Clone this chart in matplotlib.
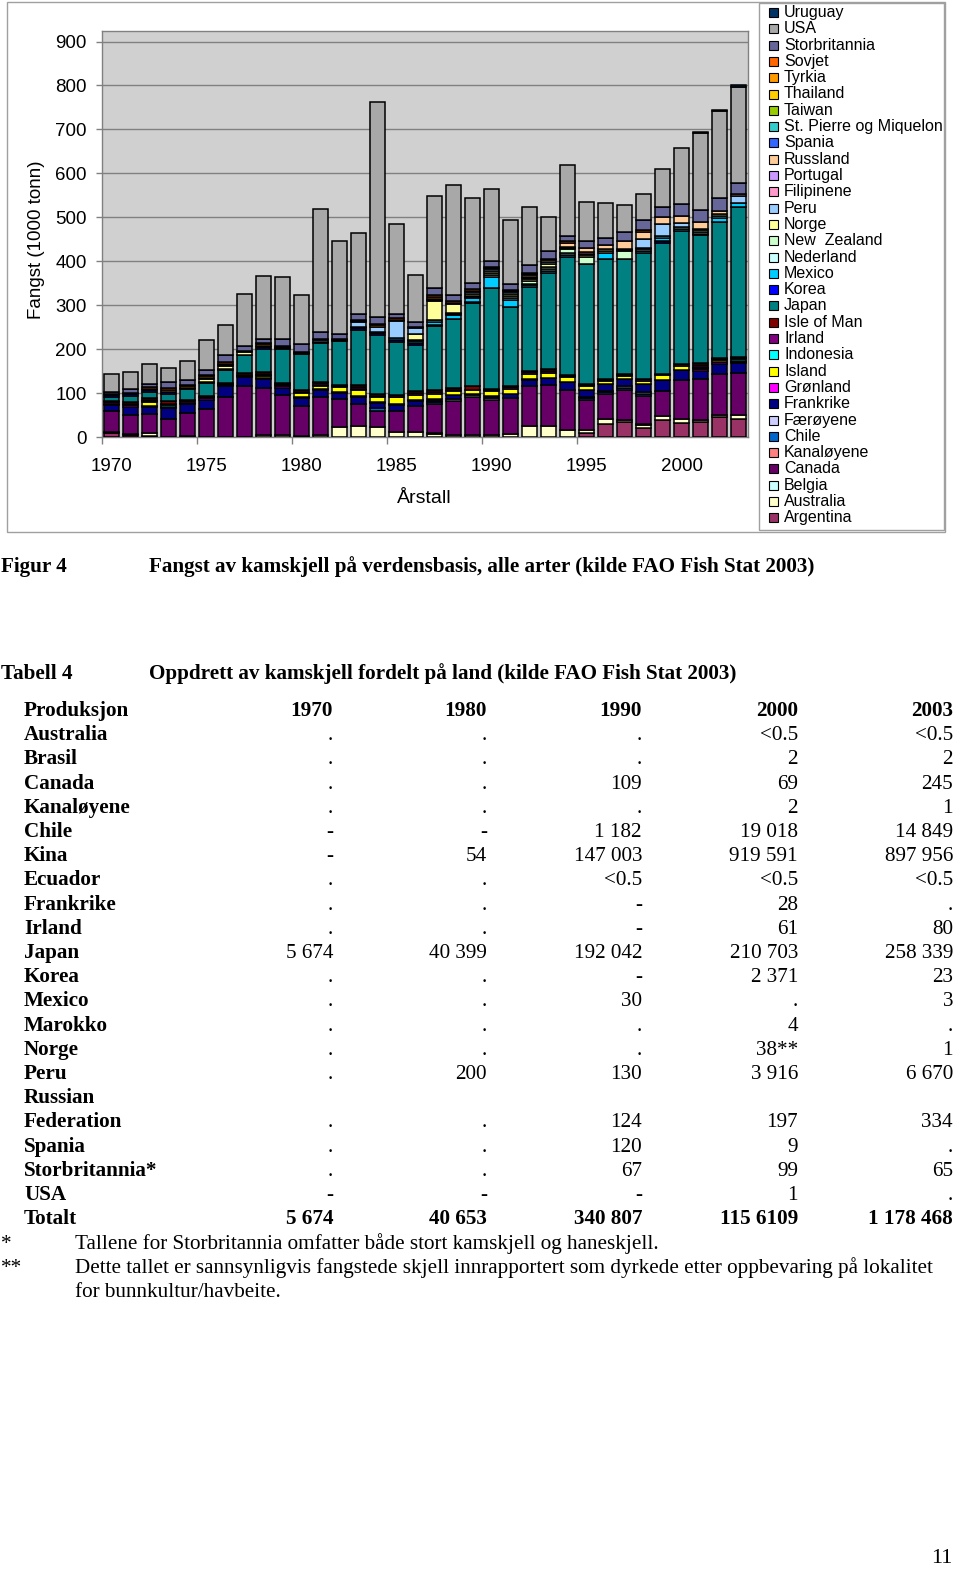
import matplotlib
matplotlib.use('Agg')
import matplotlib.pyplot as plt
from matplotlib.patches import Rectangle
import numpy as np

# ---------------- data (1000 tonnes), years 1970-2003 ----------------
years = list(range(1970, 2004))

argentina = [10, 5, 2, 0, 0,   0, 0, 0, 0, 0,   0, 0, 0, 0, 0,   0, 0, 0, 0, 0,
             0, 0, 0, 0, 0,   8, 30, 35, 20, 39,   31, 35, 46, 42]
australia = [2, 2, 7, 1, 2,   1, 1, 1, 5, 5,   2, 5, 23, 25, 23,   12, 11, 7, 5, 5,
             5, 7, 24, 25, 16,   9, 11, 3, 8, 8,   9, 3, 5, 8]
belgia = [0, 0, 0, 0, 0,   0, 0, 0, 0, 0,   0, 0, 0, 0, 0,   0, 0, 2, 0, 0,
          0, 0, 0, 0, 0,   0, 0, 0, 2, 0,   0, 0, 0, 0]
canada = [48, 43, 43, 40, 53,   63, 91, 114, 106, 91,   69, 87, 64, 51, 37,   48, 60, 67, 76, 87,
          80, 81, 91, 93, 91,   68, 58, 70, 64, 57,   89, 93, 93, 95]
kanaloyene = [0, 0, 0, 0, 0,   0, 0, 0, 0, 0,   0, 0, 0, 0, 0,   0, 0, 0, 0, 0,
              0, 0, 0, 0, 0,   0, 0, 0, 0, 0,   0, 0, 0, 0]
chile = [0, 0, 0, 0, 0,   0, 0, 0, 0, 0,   0, 0, 0, 0, 6,   0, 0, 3, 0, 0,
         0, 0, 0, 0, 0,   3, 3, 4, 4, 0,   0, 0, 0, 0]
faeroyene = [0, 0, 0, 0, 0,   0, 0, 0, 0, 0,   0, 0, 0, 0, 0,   0, 0, 3, 5, 4,
             4, 0, 0, 0, 0,   3, 3, 4, 4, 0,   0, 0, 0, 0]
frankrike = [13, 19, 17, 25, 19,   21, 23, 21, 20, 15,   17, 15, 14, 15, 12,   13, 11, 5, 10, 2,
             4, 11, 15, 17, 19,   15, 15, 15, 18, 26,   23, 20, 23, 23]
gronland = [3, 3, 2, 3, 3,   3, 3, 3, 3, 4,   4, 2, 2, 2, 2,   2, 3, 0, 0, 0,
            0, 0, 3, 0, 0,   0, 0, 0, 0, 0,   0, 3, 3, 3]
island = [0, 0, 8, 0, 0,   0, 0, 0, 5, 3,   9, 8, 10, 14, 11,   15, 11, 11, 9, 10,
          11, 10, 11, 11, 10,   9, 8, 8, 8, 10,   10, 3, 5, 3]
indonesia = [0, 0, 3, 3, 0,   0, 0, 0, 2, 0,   0, 2, 0, 3, 0,   0, 0, 0, 0, 0,
             0, 0, 0, 0, 0,   0, 0, 0, 0, 0,   0, 3, 0, 3]
irland = [3, 4, 3, 4, 4,   3, 3, 3, 3, 2,   2, 3, 2, 3, 3,   2, 4, 4, 3, 0,
          2, 4, 3, 4, 2,   3, 2, 2, 3, 0,   0, 4, 2, 3]
isle_of_man = [3, 4, 3, 5, 4,   3, 3, 3, 3, 2,   3, 4, 3, 5, 3,   4, 4, 6, 3, 9,
               3, 4, 4, 4, 3,   3, 3, 3, 0, 3,   4, 4, 3, 3]
japan = [10, 13, 15, 17, 24,   29, 29, 42, 53, 78,   83, 89, 100, 126, 136,   120, 106, 144, 157, 189,
         229, 178, 191, 219, 269,   272, 271, 261, 288, 299,   303, 291, 309, 340]
korea = [3, 4, 4, 4, 3,   2, 2, 0, 4, 2,   2, 2, 2, 4, 3,   4, 4, 4, 0, 2,
         0, 0, 0, 0, 0,   0, 0, 0, 0, 5,   0, 0, 0, 0]
mexico = [0, 0, 0, 0, 0,   0, 0, 0, 0, 0,   0, 0, 0, 3, 3,   5, 4, 5, 9, 8,
          27, 17, 3, 5, 4,   0, 15, 0, 4, 5,   5, 4, 10, 10]
nederland = [0, 0, 0, 0, 0,   0, 0, 0, 0, 0,   0, 0, 0, 0, 0,   0, 3, 6, 3, 3,
             4, 4, 4, 5, 4,   0, 0, 0, 4, 5,   4, 4, 4, 0]
new_zealand = [0, 0, 0, 0, 0,   0, 0, 0, 0, 0,   0, 0, 0, 0, 0,   0, 0, 0, 3, 3,
               4, 5, 5, 5, 10,   17, 4, 19, 3, 0,   0, 3, 4, 0]
norge = [0, 0, 0, 0, 0,   7, 6, 6, 3, 0,   0, 0, 0, 0, 0,   0, 13, 42, 19, 4,
         5, 5, 5, 6, 3,   4, 4, 2, 0, 0,   0, 4, 0, 0]
peru = [0, 0, 0, 0, 0,   0, 0, 0, 0, 3,   3, 3, 3, 11, 11,   40, 13, 3, 4, 4,
        4, 3, 3, 4, 2,   3, 0, 2, 21, 27,   10, 0, 0, 15]
filipinene = [0, 0, 0, 0, 0,   0, 0, 0, 0, 0,   0, 0, 0, 0, 0,   0, 0, 0, 0, 0,
              0, 0, 3, 0, 0,   3, 0, 0, 0, 0,   0, 0, 0, 0]
portugal = [0, 0, 0, 0, 0,   0, 0, 0, 0, 0,   0, 0, 0, 0, 0,   0, 0, 0, 0, 0,
            0, 0, 0, 0, 0,   0, 0, 0, 0, 0,   0, 0, 0, 0]
russland = [0, 0, 0, 0, 0,   0, 0, 0, 0, 0,   0, 0, 0, 0, 0,   0, 0, 3, 0, 3,
            0, 0, 3, 4, 9,   11, 11, 17, 16, 17,   15, 15, 8, 5]
spania = [0, 0, 0, 0, 0,   0, 0, 0, 0, 0,   0, 0, 0, 0, 0,   0, 0, 0, 0, 0,
          0, 0, 0, 0, 0,   0, 0, 0, 0, 0,   0, 0, 0, 0]
st_pierre = [0, 0, 0, 0, 0,   0, 0, 0, 0, 0,   0, 0, 0, 0, 0,   0, 0, 0, 0, 0,
             0, 0, 0, 0, 0,   0, 0, 0, 0, 0,   0, 0, 0, 0]
taiwan = [0, 0, 0, 0, 0,   0, 0, 0, 0, 0,   0, 0, 0, 0, 0,   0, 0, 0, 0, 0,
          0, 0, 0, 0, 0,   0, 0, 0, 0, 0,   0, 0, 0, 0]
thailand = [0, 0, 0, 0, 0,   3, 3, 0, 0, 0,   0, 0, 0, 0, 0,   0, 0, 0, 0, 0,
            0, 0, 0, 0, 0,   0, 0, 0, 0, 0,   0, 0, 0, 0]
tyrkia = [0, 0, 3, 4, 3,   3, 3, 0, 4, 0,   0, 0, 0, 2, 4,   2, 0, 4, 0, 0,
          3, 3, 3, 0, 0,   0, 0, 0, 0, 0,   0, 0, 0, 0]
sovjet = [3, 4, 4, 5, 4,   4, 3, 2, 4, 3,   0, 2, 0, 3, 4,   3, 4, 4, 3, 4,
          3, 3, 3, 4, 3,   0, 0, 0, 4, 0,   0, 0, 0, 0]
storbritannia = [5, 8, 6, 14, 11,   11, 17, 13, 9, 14,   17, 17, 12, 14, 14,   11, 11, 15, 15, 13,
                 13, 14, 17, 17, 13,   15, 16, 21, 23, 23,   27, 28, 30, 25]
usa = [40, 40, 47, 33, 42,   67, 68, 117, 142, 142,   113, 279, 210, 184, 490,   203, 106, 211, 249, 193,
       163, 144, 132, 77, 161,   89, 78, 61, 58, 87,   127, 174, 197, 218]
uruguay = [0, 0, 0, 0, 0,   0, 0, 0, 0, 0,   0, 0, 0, 0, 0,   0, 0, 0, 0, 0,
           0, 0, 0, 0, 0,   0, 0, 0, 0, 0,   0, 3, 2, 4]

# stacking order bottom -> top: (label, values, colour)
series = [
    ("Argentina", argentina, "#993366"),
    ("Australia", australia, "#FFFFCC"),
    ("Belgia", belgia, "#CCFFFF"),
    ("Canada", canada, "#660066"),
    ("Kanaløyene", kanaloyene, "#FF8080"),
    ("Chile", chile, "#0066CC"),
    ("Færøyene", faeroyene, "#CCCCFF"),
    ("Frankrike", frankrike, "#000080"),
    ("Grønland", gronland, "#FF00FF"),
    ("Island", island, "#FFFF00"),
    ("Indonesia", indonesia, "#00FFFF"),
    ("Irland", irland, "#800080"),
    ("Isle of Man", isle_of_man, "#800000"),
    ("Japan", japan, "#008080"),
    ("Korea", korea, "#0000FF"),
    ("Mexico", mexico, "#00CCFF"),
    ("Nederland", nederland, "#CCFFFF"),
    ("New  Zealand", new_zealand, "#CCFFCC"),
    ("Norge", norge, "#FFFF99"),
    ("Peru", peru, "#99CCFF"),
    ("Filipinene", filipinene, "#FF99CC"),
    ("Portugal", portugal, "#CC99FF"),
    ("Russland", russland, "#FFCC99"),
    ("Spania", spania, "#3366FF"),
    ("St. Pierre og Miquelon", st_pierre, "#33CCCC"),
    ("Taiwan", taiwan, "#99CC00"),
    ("Thailand", thailand, "#FFCC00"),
    ("Tyrkia", tyrkia, "#FF9900"),
    ("Sovjet", sovjet, "#FF6600"),
    ("Storbritannia", storbritannia, "#666699"),
    ("USA", usa, "#A8A8A8"),
    ("Uruguay", uruguay, "#003366"),
]

y_ticks = [0, 100, 200, 300, 400, 500, 600, 700, 800, 900]
x_tick_years = [1970, 1975, 1980, 1985, 1990, 1995, 2000]

# table text
table_header = ["Produksjon", "1970", "1980", "1990", "2000", "2003"]
table_rows = [
    ("Australia", [".", ".", ".", "<0.5", "<0.5"]),
    ("Brasil", [".", ".", ".", "2", "2"]),
    ("Canada", [".", ".", "109", "69", "245"]),
    ("Kanaløyene", [".", ".", ".", "2", "1"]),
    ("Chile", ["-", "-", "1 182", "19 018", "14 849"]),
    ("Kina", ["-", "54", "147 003", "919 591", "897 956"]),
    ("Ecuador", [".", ".", "<0.5", "<0.5", "<0.5"]),
    ("Frankrike", [".", ".", "-", "28", "."]),
    ("Irland", [".", ".", "-", "61", "80"]),
    ("Japan", ["5 674", "40 399", "192 042", "210 703", "258 339"]),
    ("Korea", [".", ".", "-", "2 371", "23"]),
    ("Mexico", [".", ".", "30", ".", "3"]),
    ("Marokko", [".", ".", ".", "4", "."]),
    ("Norge", [".", ".", ".", "38**", "1"]),
    ("Peru", [".", "200", "130", "3 916", "6 670"]),
    ("Russian", ["", "", "", "", ""]),
    ("Federation", [".", ".", "124", "197", "334"]),
    ("Spania", [".", ".", "120", "9", "."]),
    ("Storbritannia*", [".", ".", "67", "99", "65"]),
    ("USA", ["-", "-", "-", "1", "."]),
]
table_total = ("Totalt", ["5 674", "40 653", "340 807", "115 6109", "1 178 468"])

# ---------------- figure ----------------
W, H = 960, 1578
fig = plt.figure(figsize=(W / 100, H / 100), dpi=100)
fig.patch.set_facecolor("white")

def fx(x):
    return x / W

def fy(y):
    return 1 - y / H

SANS = "Liberation Sans"
SERIF = "Liberation Serif"

# chart area border and legend border
fig.patches.append(Rectangle((fx(7), fy(532)), 938 / W, 530 / H, transform=fig.transFigure,
                             fill=False, edgecolor="#A0A0A0", lw=1.0))
fig.patches.append(Rectangle((fx(759), fy(530)), 185 / W, 527 / H, transform=fig.transFigure,
                             fill=False, edgecolor="#A0A0A0", lw=1.0))

ax = fig.add_axes([fx(102), fy(437), 646 / W, 406 / H])
ax.set_facecolor("#D0D0D0")

idx = np.arange(len(years))
bottom = np.zeros(len(years))
for name, vals, col in series:
    v = np.array(vals, dtype=float)
    m = v > 0
    if m.any():
        ax.bar(idx[m], v[m], bottom=bottom[m], width=0.79, color=col,
               edgecolor="black", linewidth=1.1, zorder=3)
    bottom += v

ax.set_xlim(-0.5, len(years) - 0.5)
ax.set_ylim(0, 924)
ax.set_yticks(y_ticks)
ax.set_yticklabels([str(t) for t in y_ticks], fontsize=13.5, family=SANS)
ax.yaxis.grid(True, color="#808080", lw=1.0, zorder=1)
ax.set_axisbelow(True)
ax.tick_params(axis="y", direction="out", length=4, width=1, color="#808080", pad=7)

# x ticks: marks at category boundaries every 5, labels under the categories
ax.set_xticks([i - 0.5 for i in range(0, 30, 5)])
ax.set_xticklabels([])
ax.set_xticks([years.index(y) for y in x_tick_years], minor=True)
ax.set_xticklabels([str(y) for y in x_tick_years], minor=True, fontsize=13.5, family=SANS)
ax.tick_params(axis="x", which="major", direction="out", length=5, width=1, color="#808080")
ax.tick_params(axis="x", which="minor", length=0, pad=15)

for s in ax.spines.values():
    s.set_color("#808080")
    s.set_linewidth(1.0)

ax.set_ylabel("Fangst (1000 tonn)", fontsize=13.5, family=SANS)
ax.yaxis.set_label_coords((45 - 102) / 646, (437 - 240) / 406)
ax.set_xlabel("Årstall", fontsize=14, family=SANS)
ax.xaxis.set_label_coords((424 - 102) / 646, (437 - 490) / 406)

# legend (reverse of stacking order)
for i, (name, vals, col) in enumerate(reversed(series)):
    yc = 12.5 + i * 16.3
    fig.patches.append(Rectangle((fx(769), fy(yc + 4.5)), 9 / W, 9 / H, transform=fig.transFigure,
                                 facecolor=col, edgecolor="black", lw=0.8))
    fig.text(fx(784), fy(yc), name, fontsize=11.5, family=SANS, va="center", ha="left")

# ---------------- text below the chart ----------------
def T(x, yc, s, ha="left", bold=False, size=15.2):
    fig.text(fx(x), fy(yc + 6), s, ha=ha, va="baseline", family=SERIF, fontsize=size,
             fontweight="bold" if bold else "normal")

T(1, 566, "Figur 4", bold=True)
T(149, 566, "Fangst av kamskjell på verdensbasis, alle arter (kilde FAO Fish Stat 2003)", bold=True)
T(1, 673, "Tabell 4", bold=True)
T(149, 673, "Oppdrett av kamskjell fordelt på land (kilde FAO Fish Stat 2003)", bold=True)

col_right = [333, 487, 642, 798, 953]
row0 = 710
dy = 24.2
T(24, row0, table_header[0], bold=True)
for xr, s in zip(col_right, table_header[1:]):
    T(xr, row0, s, ha="right", bold=True)
for k, (lab, vals) in enumerate(table_rows, start=1):
    yc = row0 + k * dy
    T(24, yc, lab, bold=True)
    for xr, s in zip(col_right, vals):
        if s:
            T(xr, yc, s, ha="right")
yc = row0 + (len(table_rows) + 1) * dy
T(24, yc, table_total[0], bold=True)
for xr, s in zip(col_right, table_total[1]):
    T(xr, yc, s, ha="right", bold=True)

T(1, 1243, "*")
T(75, 1243, "Tallene for Storbritannia omfatter både stort kamskjell og haneskjell.")
T(1, 1267, "**")
T(75, 1267, "Dette tallet er sannsynligvis fangstede skjell innrapportert som dyrkede etter oppbevaring på lokalitet")
T(75, 1291, "for bunnkultur/havbeite.")

T(952, 1557, "11", ha="right", size=16)

fig.savefig("out.png", dpi=100, facecolor="white")
